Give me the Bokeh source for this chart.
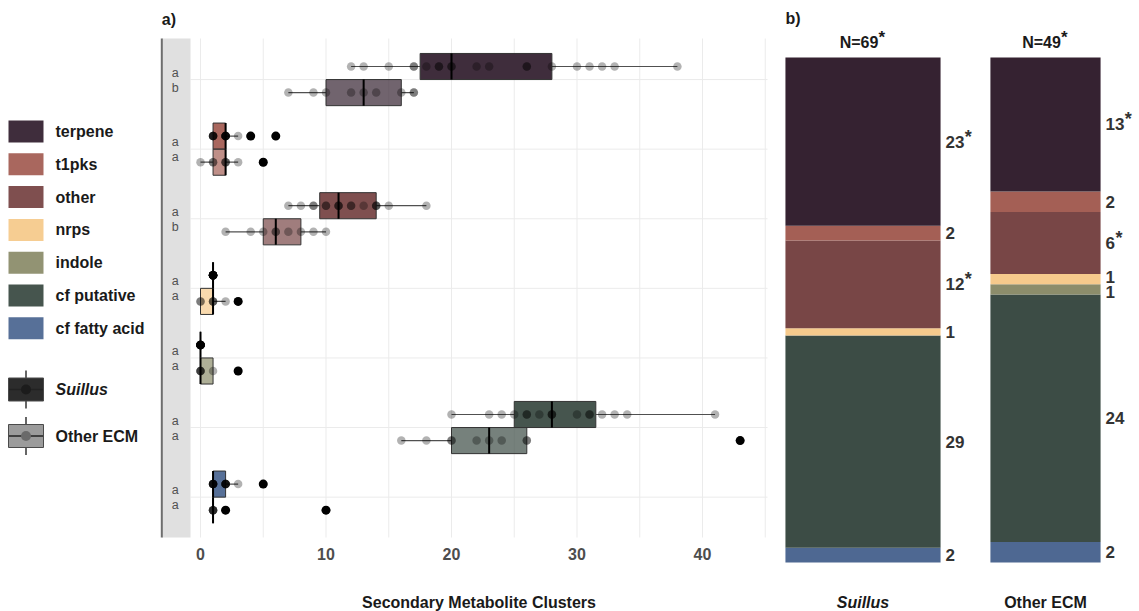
from bokeh.plotting import figure
from bokeh.models import Range1d, ColumnDataSource
from bokeh.layouts import row
from bokeh.embed import file_html
from bokeh.resources import INLINE
from bokeh.core.properties import value

FONT = value("Liberation Sans")

# ---------------- data ----------------
categories = ["terpene", "t1pks", "other", "nrps", "indole", "cf putative", "cf fatty acid"]
colors = ["#352231", "#A45F55", "#784646", "#F6CA8C", "#8C8D6B", "#3C4C45", "#4E6892"]
group_names = ["Suillus", "Other ECM"]

# boxplot statistics (panel a)
suillus_lo = [12, 1, 7, 1, 0, 20, 1]
suillus_q1 = [17.5, 1, 9.5, 1, 0, 25, 1]
suillus_med = [20, 2, 11, 1, 0, 28, 1]
suillus_q3 = [28, 2, 14, 1, 0, 31.5, 2]
suillus_hi = [38, 3, 18, 1, 0, 41, 3]

other_lo = [7, 0, 2, 0, 0, 16, 1]
other_q1 = [10, 1, 5, 0, 0, 20, 1]
other_med = [13, 2, 6, 1, 0, 23, 1]
other_q3 = [16, 2, 8, 1, 1, 26, 1]
other_hi = [17, 3, 10, 2, 1, 26, 1]

suillus_points = [
    [12, 13, 15, 17, 17, 18, 19, 19, 20, 20, 22, 23, 26, 26, 28, 30, 31, 32, 33, 38],
    [1, 1, 1, 1, 1, 1, 2, 2, 2, 2, 2, 2, 2, 2, 3, 4, 6],
    [7, 8, 9, 9, 10, 10, 11, 11, 11, 12, 12, 13, 14, 14, 14, 15, 18],
    [1, 1, 1, 1, 1, 1, 1, 1, 1, 1, 1, 1, 1, 1, 1, 1, 1],
    [0, 0, 0, 0, 0, 0, 0, 0, 0, 0, 0, 0, 0, 0, 0, 0, 0],
    [20, 23, 24, 25, 26, 26, 27, 28, 28, 28, 30, 31, 31, 32, 33, 34, 41],
    [1, 1, 1, 1, 1, 1, 1, 1, 2, 2, 2, 2, 2, 2, 2, 3, 5],
]
other_points = [
    [7, 9, 10, 12, 13, 14, 16, 17, 17],
    [0, 1, 1, 2, 2, 2, 3, 5],
    [2, 4, 5, 6, 6, 7, 8, 9, 10],
    [0, 0, 1, 1, 1, 2, 3],
    [0, 0, 0, 0, 1, 3],
    [16, 18, 20, 20, 22, 23, 24, 26, 26, 43],
    [1, 1, 1, 1, 1, 2, 10],
]
suillus_outliers = [[], [4, 6], [], [], [], [], [5]]
other_outliers = [[], [5], [], [3], [3], [43], [2, 10]]

letters_suillus = ["a", "a", "a", "a", "a", "a", "a"]
letters_other = ["b", "a", "b", "a", "a", "a", "a"]

x_ticks = [0, 10, 20, 30, 40]
x_grid = [0, 5, 10, 15, 20, 25, 30, 35, 40, 45]
x_title = "Secondary Metabolite Clusters"

# stacked proportions (panel b)
suillus_counts = [23, 2, 12, 1, 0, 29, 2]
other_counts = [13, 2, 6, 1, 1, 24, 2]
signif = [True, False, True, False, False, False, False]
group_signif = [True, True]

H = 611
ncat = len(categories)

# ---------------- panel a ----------------
PA_W = 615
PXU = 12.55                      # px per unit on x
XLO = -45 / PXU                  # figure left edge
XHI = XLO + PA_W / PXU
PANEL_R = XLO + 612 / PXU
YT_D, YB_D = 6.59, -0.58         # panel extent in category units
PT, PBt = 38, 537                # panel top / bottom in px
PYU = (PBt - PT) / (YT_D - YB_D)
ya_top = YT_D + PT / PYU
ya_bot = YB_D - (H - PBt) / PYU
DODGE = 0.1875
BOXH = 0.375

pa = figure(width=PA_W, height=H, x_range=Range1d(XLO, XHI), y_range=Range1d(ya_bot, ya_top),
            x_axis_type=None, y_axis_type=None, min_border=0, output_backend="svg",
            toolbar_location=None, title=None)
pa.outline_line_color = None
pa.grid.visible = False

AXLINE = XLO + 6.3 / PXU
STRIP_R = -10 / PXU
cat_y = [ncat - 1 - i for i in range(ncat)]

# grid
pa.segment(x0=x_grid, y0=YB_D, x1=x_grid, y1=YT_D, line_color="#ebebeb", line_width=1)
pa.segment(x0=STRIP_R, y0=cat_y, x1=PANEL_R, y1=cat_y, line_color="#ebebeb", line_width=1)
# strip + axis line
pa.quad(left=AXLINE, right=STRIP_R, bottom=YB_D, top=YT_D, fill_color="#e0e0e0", line_color=None)
pa.segment(x0=AXLINE, y0=YB_D, x1=AXLINE, y1=YT_D, line_color="#6e6e6e", line_width=2)

lx = (AXLINE + STRIP_R) / 2 - 1 / PXU
pa.text(x=lx, y=cat_y, text=letters_suillus, y_offset=-7, text_align="center", text_baseline="middle",
        text_font=FONT, text_font_size="12.5px", text_color="#505050")
pa.text(x=lx, y=cat_y, text=letters_other, y_offset=8, text_align="center", text_baseline="middle",
        text_font=FONT, text_font_size="12.5px", text_color="#505050")

groups = [
    (suillus_lo, suillus_q1, suillus_med, suillus_q3, suillus_hi, suillus_points, suillus_outliers, 0.95, 1),
    (other_lo, other_q1, other_med, other_q3, other_hi, other_points, other_outliers, 0.7, -1),
]
point_sets = []
for lo, q1, med, q3, hi, pts, outs, alpha, sgn in groups:
    yc = [y + sgn * DODGE for y in cat_y]
    src = ColumnDataSource(dict(y=yc, lo=lo, q1=q1, med=med, q3=q3, hi=hi, color=colors,
                                ytop=[y + BOXH / 2 for y in yc], ybot=[y - BOXH / 2 for y in yc]))
    pa.segment(x0="lo", y0="y", x1="q1", y1="y", source=src, line_color="#505050", line_width=1.2)
    pa.segment(x0="q3", y0="y", x1="hi", y1="y", source=src, line_color="#505050", line_width=1.2)
    pa.hbar(y="y", left="q1", right="q3", height=BOXH, source=src, fill_color="color",
            fill_alpha=alpha, line_color="#333333", line_width=1)
    pa.segment(x0="med", y0="ybot", x1="med", y1="ytop", source=src, line_color="black", line_width=2)
    ox, oy = [], []
    for i, vals in enumerate(outs):
        ox += vals
        oy += [yc[i]] * len(vals)
    pa.scatter(x=ox, y=oy, size=9, fill_color="black", line_color=None)
    px_, py_ = [], []
    for i, vals in enumerate(pts):
        px_ += vals
        py_ += [yc[i]] * len(vals)
    point_sets.append((px_, py_))

for px_, py_ in point_sets:
    pa.scatter(x=px_, y=py_, size=8.5, fill_color="black", fill_alpha=0.3, line_color=None)

# x tick labels, axis title, panel tag
pa.text(x=x_ticks, y=YB_D, text=[str(t) for t in x_ticks], y_offset=16, text_align="center",
        text_baseline="middle", text_font=FONT, text_font_size="16px", text_font_style="bold",
        text_color="#4d4d4d")
pa.text(x=(STRIP_R + PANEL_R) / 2, y=YB_D, text=[x_title], y_offset=65, text_align="center",
        text_baseline="middle", text_font=FONT, text_font_size="16px", text_font_style="bold",
        text_color="#1a1a1a")
pa.text(x=AXLINE, y=YT_D, text=["a)"], y_offset=-19, text_align="left", text_baseline="middle",
        text_font=FONT, text_font_size="16px", text_font_style="bold", text_color="#1a1a1a")

# ---------------- panel b ----------------
PXB = 182.5
BW = 369
bx0 = 1 - 92.5 / PXB
bx1 = bx0 + BW / PXB
PYB = 505.0
by1 = 1 + 57 / PYB
by0 = by1 - H / PYB

pb = figure(width=BW, height=H, x_range=Range1d(bx0, bx1), y_range=Range1d(by0, by1),
            x_axis_type=None, y_axis_type=None, min_border=0, output_backend="svg",
            toolbar_location=None, title=None)
pb.grid.visible = False
pb.outline_line_color = None

all_counts = [suillus_counts, other_counts]
totals = [sum(c) for c in all_counts]
maxn = max(totals)
lab_x, lab_y, lab_t, star_x, star_y, star_off = [], [], [], [], [], []
for g, counts in enumerate(all_counts):
    xpos = g + 1
    w = 0.85 * totals[g] / maxn
    bottoms, tops, cols = [], [], []
    acc = 0.0
    labs = []
    for i in reversed(range(ncat)):
        frac = counts[i] / totals[g]
        bottoms.append(acc)
        tops.append(acc + frac)
        cols.append(colors[i])
        if counts[i] > 0:
            labs.append([acc + frac / 2, str(counts[i]), signif[i]])
        acc += frac
    pb.vbar(x=xpos, width=w, bottom=bottoms, top=tops, fill_color=cols, line_color=None)
    gap = 15 / PYB
    for j in range(1, len(labs)):
        d = labs[j][0] - labs[j - 1][0]
        if d < gap:
            labs[j][0] += (gap - d) / 2
            labs[j - 1][0] -= (gap - d) / 2
    lx_ = xpos + w / 2 + 5 / PXB
    for yv, t, s in labs:
        lab_x.append(lx_)
        lab_y.append(yv)
        lab_t.append(t)
        if s:
            star_x.append(lx_)
            star_y.append(yv)
            star_off.append(9.3 * len(t) + 0.5)

pb.text(x=lab_x, y=lab_y, text=lab_t, text_align="left", text_baseline="middle",
        text_font=FONT, text_font_size="17px", text_font_style="bold", text_color="#333333")
pb.text(x=star_x, y=star_y, text=["*"] * len(star_x), x_offset=star_off, y_offset=-5,
        text_align="left", text_baseline="middle",
        text_font=FONT, text_font_size="18px", text_font_style="bold", text_color="#333333")

n_x = [g + 1 for g in range(len(totals))]
n_t = ["N=%d" % t for t in totals]
pb.text(x=n_x, y=1, text=n_t, x_offset=-4, y_offset=-15, text_align="center", text_baseline="middle",
        text_font=FONT, text_font_size="16px", text_font_style="bold", text_color="#1a1a1a")
sx = [n_x[g] for g in range(len(totals)) if group_signif[g]]
pb.text(x=sx, y=1, text=["*"] * len(sx), x_offset=15.5, y_offset=-20, text_align="left",
        text_baseline="middle", text_font=FONT, text_font_size="17px", text_font_style="bold",
        text_color="#1a1a1a")

w0 = 0.85 * totals[0] / maxn
pb.text(x=1 - w0 / 2, y=1, text=["b)"], y_offset=-39, text_align="left", text_baseline="middle",
        text_font=FONT, text_font_size="16px", text_font_style="bold", text_color="#1a1a1a")
pb.text(x=1, y=0, text=[group_names[0]], y_offset=40, text_align="center", text_baseline="middle",
        text_font=FONT, text_font_size="16px", text_font_style="bold italic", text_color="#1a1a1a")
pb.text(x=2, y=0, text=[group_names[1]], y_offset=40, text_align="center", text_baseline="middle",
        text_font=FONT, text_font_size="16px", text_font_style="bold", text_color="#1a1a1a")

# ---------------- legend ----------------
LW = 155
pl = figure(width=LW, height=H, x_range=Range1d(0, LW), y_range=Range1d(H, 0),
            x_axis_type=None, y_axis_type=None, min_border=0, output_backend="svg",
            toolbar_location=None, title=None)
pl.grid.visible = False
pl.outline_line_color = None
key_y = [131 + 32.8 * i for i in range(ncat)]
pl.rect(x=25.5, y=key_y, width=35, height=22, fill_color=colors, fill_alpha=0.95, line_color=None)
pl.text(x=55, y=key_y, text=categories, text_align="left", text_baseline="middle",
        text_font=FONT, text_font_size="16px", text_font_style="bold", text_color="#1a1a1a")

gy = [389, 435.5]
gfill = ["#2c2c2c", "#9b9b9b"]
gdot = ["#1c1c1c", "#6a6a6a"]
pl.segment(x0=25.5, y0=[y - 19 for y in gy], x1=25.5, y1=[y + 19 for y in gy], line_color="#333333", line_width=1.5)
pl.rect(x=25.5, y=gy, width=35, height=23, fill_color=gfill, line_color="#4a4a4a", line_width=1)
pl.segment(x0=8.5, y0=gy, x1=42.5, y1=gy, line_color="#222222", line_width=1.5)
pl.scatter(x=25.5, y=gy, size=10, fill_color=gdot, line_color=None)
pl.text(x=55, y=gy[0], text=[group_names[0]], text_align="left", text_baseline="middle",
        text_font=FONT, text_font_size="16px", text_font_style="bold italic", text_color="#1a1a1a")
pl.text(x=55, y=gy[1], text=[group_names[1]], text_align="left", text_baseline="middle",
        text_font=FONT, text_font_size="16px", text_font_style="bold", text_color="#1a1a1a")

layout = row(pl, pa, pb)
open("out.html", "w").write(file_html(layout, INLINE))
